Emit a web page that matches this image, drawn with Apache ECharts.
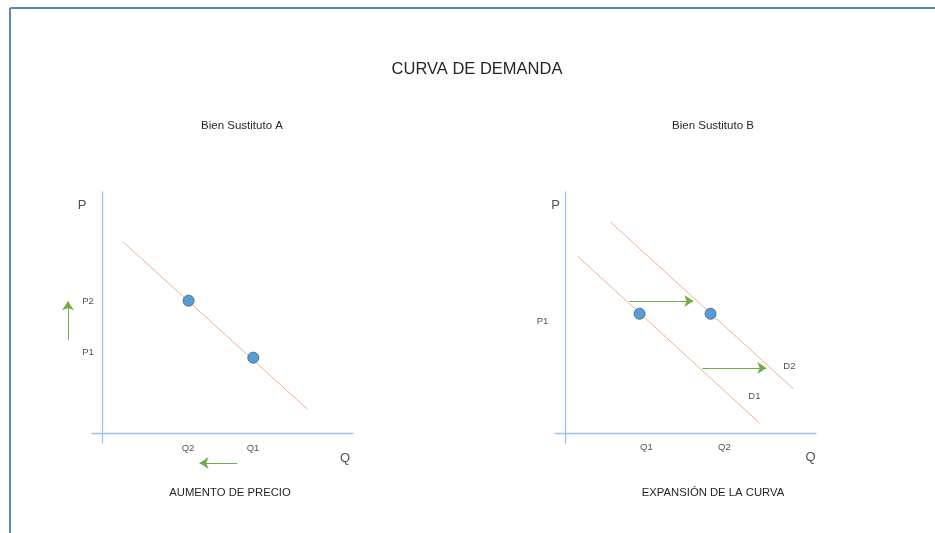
<!DOCTYPE html>
<html>
<head>
<meta charset="utf-8">
<script src="https://cdn.jsdelivr.net/npm/echarts@6/dist/echarts.min.js"></script>
<style>html,body{margin:0;padding:0;background:#fff}#c{width:935px;height:533px}</style>
</head>
<body>
<div id="c"></div>
<script>
// ---- data ----
const mainTitle = 'CURVA DE DEMANDA';
const panelTitles = ['Bien Sustituto A', 'Bien Sustituto B'];
const panelCaptions = ['AUMENTO DE PRECIO', 'EXPANSIÓN DE LA CURVA'];

// Panel A: demand curve and two equilibrium points
const demandA = [[0.8, 7.6], [7.85, 0.95]];
const pointsA = [[3.3, 5.27], [5.78, 3.0]];
const labelsA = [
  ['P', -0.78, 9.08, 'big'], ['Q', 9.3, -1.0, 'big'],
  ['P2', -0.55, 5.26, 'small'], ['P1', -0.55, 3.23, 'small'],
  ['Q2', 3.28, -0.6, 'small'], ['Q1', 5.77, -0.6, 'small']
];
const arrowsA = [
  [[-1.32, 3.71], [-1.32, 5.25]],
  [[5.16, -1.2], [3.72, -1.2]]
];

// Panel B: two demand curves (D1, D2) and points
const demandB1 = [[0.46, 7.05], [7.43, 0.4]];
const demandB2 = [[1.72, 8.41], [8.74, 1.75]];
const pointsB = [[2.84, 4.75], [5.56, 4.75]];
const labelsB = [
  ['P', -0.38, 9.08, 'big'], ['Q', 9.39, -0.96, 'big'],
  ['P1', -0.88, 4.46, 'small'],
  ['Q1', 3.10, -0.56, 'small'], ['Q2', 6.09, -0.56, 'small'],
  ['D2', 8.58, 2.67, 'small'], ['D1', 7.24, 1.47, 'small']
];
const arrowsB = [
  [[2.45, 5.26], [4.9, 5.26]],
  [[5.25, 2.59], [7.7, 2.59]]
];

const axisMin = -0.4, axisMax = 9.6;

// ---- styles ----
const FONT = '"Liberation Sans", Arial, sans-serif';
const axisColor = '#9dc3e6';
const curveColor = '#f4b183';
const arrowColor = '#70ad47';

function mkAxis(type, idx) {
  return {
    type: 'value', gridIndex: idx, min: axisMin, max: axisMax,
    axisLine: { show: true, onZero: true, lineStyle: { color: axisColor, width: 1.3 } },
    axisTick: { show: false }, axisLabel: { show: false }, splitLine: { show: false }
  };
}

function panelSeries(idx, curves, points, labels, arrows) {
  const s = [];
  curves.forEach(c => s.push({
    type: 'line', xAxisIndex: idx, yAxisIndex: idx, data: c, symbol: 'none',
    lineStyle: { color: curveColor, width: 1 }, silent: true, z: 2
  }));
  s.push({
    type: 'scatter', xAxisIndex: idx, yAxisIndex: idx, data: points, symbolSize: 11,
    itemStyle: { color: '#5b9bd5', borderColor: '#41719c', borderWidth: 1, opacity: 1 }, z: 5
  });
  s.push({
    type: 'lines', coordinateSystem: 'cartesian2d', xAxisIndex: idx, yAxisIndex: idx,
    clip: false,
    data: arrows.map(a => ({ coords: a })),
    symbol: ['none', 'arrow'], symbolSize: 9,
    lineStyle: { color: arrowColor, width: 1, opacity: 1 }, z: 4
  });
  s.push({
    type: 'scatter', xAxisIndex: idx, yAxisIndex: idx, clip: false, symbolSize: 0,
    data: labels.map(l => ({
      value: [l[1], l[2]], name: l[0],
      label: {
        show: true, position: 'inside', formatter: l[0],
        fontFamily: FONT,
        fontSize: l[3] === 'big' ? 13 : 9.5,
        color: l[3] === 'big' ? '#262626' : '#1e1e1e'
      }
    })),
    silent: true, z: 6
  });
  return s;
}

function ttl(text, x, y, size) {
  return { text: text, left: x, top: y, textAlign: 'center', padding: 0,
    textStyle: { fontFamily: FONT, fontSize: size, fontWeight: 'normal', color: '#262626' } };
}

const chart = echarts.init(document.getElementById('c'), null, { renderer: 'canvas' });
chart.setOption({
  backgroundColor: '#fff',
  animation: false,
  title: [
    ttl(mainTitle, 477, 61, 16.5),
    ttl(panelTitles[0], 242, 120, 11.5),
    ttl(panelTitles[1], 713, 120, 11.5),
    ttl(panelCaptions[0], 230, 487, 11.3),
    ttl(panelCaptions[1], 713, 487, 11.3)
  ],
  graphic: [
    { type: 'line', shape: { x1: 10, y1: 8, x2: 935, y2: 8 }, style: { stroke: '#5b86bb', lineWidth: 2 } },
    { type: 'line', shape: { x1: 10, y1: 8, x2: 10, y2: 533 }, style: { stroke: '#5b86bb', lineWidth: 2 } }
  ],
  grid: [
    { left: 92, top: 192, width: 261, height: 251 },
    { left: 555, top: 192, width: 261, height: 251 }
  ],
  xAxis: [mkAxis('x', 0), mkAxis('x', 1)],
  yAxis: [mkAxis('y', 0), mkAxis('y', 1)],
  series: [].concat(
    panelSeries(0, [demandA], pointsA, labelsA, arrowsA),
    panelSeries(1, [demandB1, demandB2], pointsB, labelsB, arrowsB)
  )
});
</script>
</body>
</html>
